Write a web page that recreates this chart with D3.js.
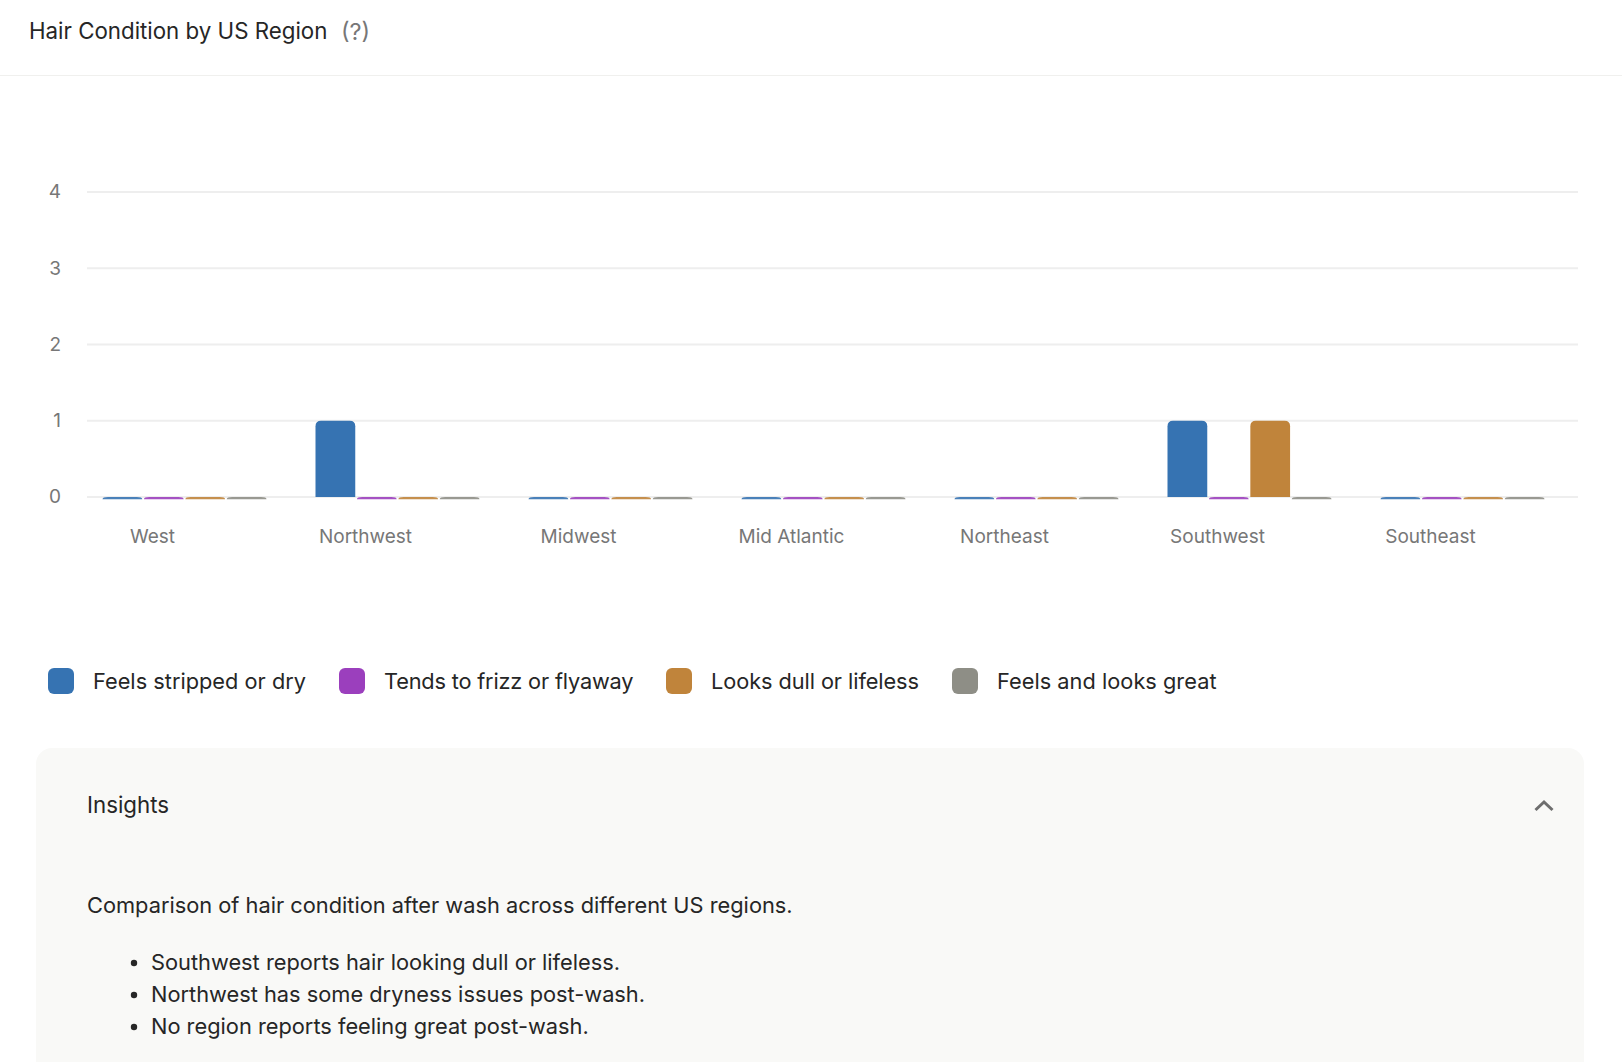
<!DOCTYPE html>
<html><head><meta charset="utf-8">
<script src="https://cdn.jsdelivr.net/npm/d3@7/dist/d3.min.js"></script>
<style>
html,body{margin:0;padding:0;background:#fff;overflow:hidden}
svg{display:block}
text{font-family:Inter,"Noto Sans",sans-serif}
.axis path,.axis line{display:none}
</style></head><body><div id="chart"></div>
<script>
const categories=["West","Northwest","Midwest","Mid Atlantic","Northeast","Southwest","Southeast"];
const seriesNames=["Feels stripped or dry","Tends to frizz or flyaway","Looks dull or lifeless","Feels and looks great"];
const strippedValues=[0,1,0,0,0,1,0];
const frizzValues=[0,0,0,0,0,0,0];
const dullValues=[0,0,0,0,0,1,0];
const greatValues=[0,0,0,0,0,0,0];
const colors=["#3673b2","#9b3fbd","#c0843b","#8e8e86"];
const yTicks=[0,1,2,3,4];
const titleText="Hair Condition by US Region";
const insightsTitle="Insights";
const insightsLead="Comparison of hair condition after wash across different US regions.";
const insightsBullets=["Southwest reports hair looking dull or lifeless.","Northwest has some dryness issues post-wash.","No region reports feeling great post-wash."];

const allSeries=[strippedValues,frizzValues,dullValues,greatValues];
const W=1622,H=1062;
const svg=d3.select("#chart").append("svg").attr("width",W).attr("height",H);

// header
svg.append("text").attr("x",29).attr("y",39).attr("font-size",22.3).attr("fill","#262626").text(titleText);
svg.append("text").attr("x",341).attr("y",39.5).attr("font-size",23.5).attr("fill","#777").text("(?)");
svg.append("rect").attr("x",0).attr("y",75).attr("width",W).attr("height",1).attr("fill","#f0f0ee");

// scales
const x0=d3.scaleBand().domain(categories).range([87,1578]);
const x1=d3.scaleBand().domain(d3.range(4)).range([15.5,179.5]).paddingInner(0.04);
const y=d3.scaleLinear().domain([0,4]).range([497,192]);

// grid
svg.append("g").selectAll("line").data(yTicks).join("line")
 .attr("x1",87).attr("x2",1578).attr("y1",d=>y(d)).attr("y2",d=>y(d))
 .attr("stroke","#eeeeee").attr("stroke-width",2);

// axes
const yAxis=svg.append("g").attr("class","axis").attr("transform","translate(61,-0.5)")
 .call(d3.axisLeft(y).tickValues(yTicks).tickSize(0).tickPadding(0).tickFormat(d3.format("d")));
yAxis.selectAll("text").attr("font-size",19).attr("fill","#777").attr("dy","0.33em");
const xAxis=svg.append("g").attr("class","axis").attr("transform","translate(-41,537)")
 .call(d3.axisBottom(x0).tickSize(0).tickPadding(0));
xAxis.selectAll("text").attr("font-size",19).attr("fill","#777").attr("dy","0.33em").attr("y",0);

// bars: rounded top; zero values still show a 2px stub under the baseline
function barPath(xp,w,top,bottom){
  const rx=5.5, ry=Math.min(5.5,bottom-top);
  return `M${xp},${bottom}V${top+ry}Q${xp},${top} ${xp+rx},${top}H${xp+w-rx}Q${xp+w},${top} ${xp+w},${top+ry}V${bottom}Z`;
}
const groups=svg.append("g").selectAll("g").data(categories).join("g")
 .attr("transform",d=>`translate(${x0(d)},0)`);
groups.selectAll("path").data((d,i)=>allSeries.map((s,k)=>({k,v:s[i]}))).join("path")
 .attr("fill",d=>colors[d.k])
 .attr("opacity",d=>d.v===0?0.9:1)
 .attr("d",d=>{
   const top=y(d.v), bottom=d.v===0?y(0)+2.2:y(0);
   return barPath(x1(d.k),x1.bandwidth(),top,bottom);
 });

// legend
const legendSwatchX=[48,339,666,952];
const legendTextWidth=[213,249.5,208,219.5];
const legend=svg.append("g").selectAll("g").data(seriesNames).join("g")
 .attr("transform",(d,i)=>`translate(${legendSwatchX[i]},668)`);
legend.append("rect").attr("width",26).attr("height",26).attr("rx",6).attr("fill",(d,i)=>colors[i]);
legend.append("text").attr("x",45).attr("y",21).attr("font-size",21.75).attr("fill","#262626")
 .attr("textLength",(d,i)=>legendTextWidth[i]).attr("lengthAdjust","spacing").text(d=>d);

// insights panel
svg.append("rect").attr("x",36).attr("y",748).attr("width",1548).attr("height",340).attr("rx",16).attr("fill","#f9f9f7");
svg.append("text").attr("x",87).attr("y",813).attr("font-size",22.3).attr("font-weight",400).attr("fill","#262626").text(insightsTitle);
svg.append("path").attr("d","M1535.5 810L1544 802L1552.5 810").attr("fill","none").attr("stroke","#6e6e6e").attr("stroke-width",3);
svg.append("text").attr("x",87).attr("y",913).attr("font-size",21.8).attr("fill","#262626").text(insightsLead);
const bulletY=d3.scalePoint().domain(insightsBullets).range([962,1026]);
const bl=svg.append("g").selectAll("g").data(insightsBullets).join("g").attr("transform",d=>`translate(0,${bulletY(d)})`);
bl.append("circle").attr("cx",134).attr("cy",1).attr("r",3.2).attr("fill","#262626");
bl.append("text").attr("x",151).attr("y",8).attr("font-size",21.8).attr("fill","#262626").text(d=>d);
</script></body></html>
